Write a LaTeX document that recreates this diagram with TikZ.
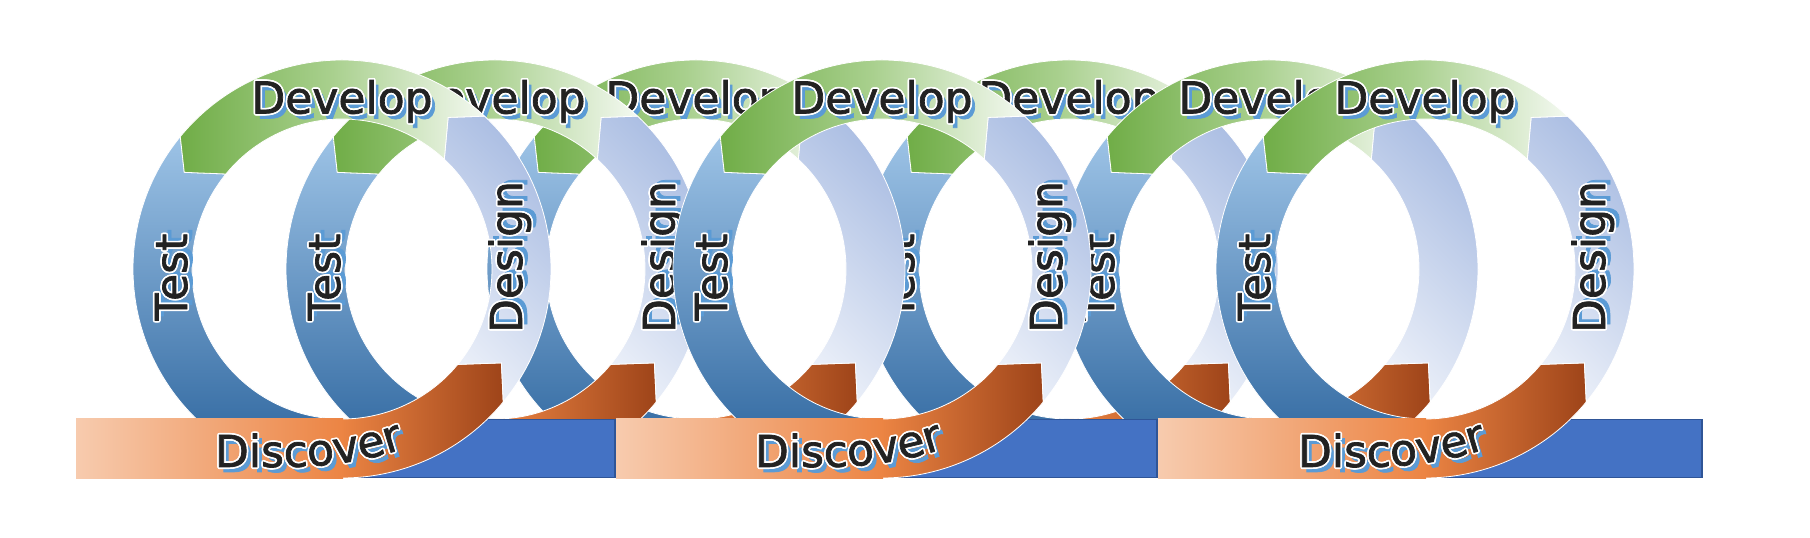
\documentclass[tikz,border=0pt]{standalone}
\usepackage{fontspec}
\newfontfamily\lblfont[FakeBold=1.6]{DejaVu Sans}
\usetikzlibrary{decorations.text}
\definecolor{testtop}{HTML}{9DC3E6}
\definecolor{testbot}{HTML}{27609A}
\definecolor{devl}{HTML}{70AD47}
\definecolor{devm}{HTML}{A9D08E}
\definecolor{devr}{HTML}{F4F9F1}
\definecolor{desdark}{HTML}{A6BAE1}
\definecolor{despale}{HTML}{E9EEF8}
\definecolor{disl}{HTML}{EB8443}
\definecolor{disr}{HTML}{9E4419}
\definecolor{barol}{HTML}{F7CBAE}
\definecolor{baror}{HTML}{EC8443}
\definecolor{barblue}{HTML}{4472C4}
\definecolor{baredge}{HTML}{2F5597}
\definecolor{shadowc}{HTML}{5B9BD5}
\definecolor{textc}{HTML}{222222}
\newcommand\lblsize{\lblfont\fontsize{44pt}{44pt}\selectfont}
\tikzset{
 seg/.style={draw=white, line width=0.8pt},
 lbl/.style={font=\lblsize, inner sep=0pt, outer sep=0pt, anchor=base, transform shape},
 lblshadow/.style={lbl, text=shadowc},
 lblhalo/.style={lbl, text=white},
 lbltext/.style={lbl, text=textc},
}
% outlined label: name, position, rotation, text
\newcommand\olabel[4]{%
 \begin{scope}[shift={#2}, rotate=#3]
  \node[lblshadow] (#1s) at (4.5,-5) {#4};
  \foreach \a in {0,30,...,330} \node[lblhalo] (#1h\a) at (\a:1.7) {#4};
  \node[lbltext] (#1) at (0,0) {#4};
 \end{scope}}
% ring of four arrow segments centred at (#1,269)
\newcommand\ringshape[1]{%
 \begin{scope}[shift={(#1,269)}]
  % Test
  \path[seg, top color=testtop, bottom color=testbot]
   (140.7:209) arc[start angle=140.7, end angle=270, radius=209pt] -- (270:150)
   arc[start angle=270, end angle=140.7, radius=150pt] -- (148.5:185) -- cycle;
  % Discover
  \path[seg, left color=disl, right color=disr]
   (270:209) arc[start angle=270, end angle=320.5, radius=209pt] -- (329.5:185) -- (320.5:150)
   arc[start angle=320.5, end angle=270, radius=150pt] -- cycle;
  % Design
  \path[seg, top color=desdark, bottom color=despale, shading angle=-45]
   (-39.5:209) arc[start angle=-39.5, end angle=47, radius=209pt] -- (55:185) -- (47:150)
   arc[start angle=47, end angle=-39.5, radius=150pt] -- (-30.5:185) -- cycle;
  % Develop
  \path[seg, left color=devl, right color=devr, middle color=devm]
   (47:209) arc[start angle=47, end angle=140.7, radius=209pt] -- (148.5:185) -- (140.7:150)
   arc[start angle=140.7, end angle=47, radius=150pt] -- (55:185) -- cycle;
 \end{scope}}
% blue bar: ring centre #1, right end #2
\newcommand\bluebar[2]{\path[draw=baredge, fill=barblue, line width=1.5pt] (#1,60.5) rectangle (#2,118.5);}
% orange bar: left end #1, ring centre #2
\newcommand\orangebar[2]{\path[left color=barol, right color=baror] (#1,59) rectangle (#2+1,119);}
\newcommand\discover[1]{%
 \begin{scope}[shift={(#1,0)}]
  \path[shift={(4.5,-5)}, decorate, decoration={text along path, text={|\lblsize\color{shadowc}|Discover}}]
   (-127,71) -- (-60,71) .. controls (-10,71) and (30,78) .. (72,93);
  \foreach \a in {0,30,...,330}
   \path[shift={(\a:1.7)}, decorate, decoration={text along path, text={|\lblsize\color{white}|Discover}}]
    (-127,71) -- (-60,71) .. controls (-10,71) and (30,78) .. (72,93);
  \path[decorate, decoration={text along path, text={|\lblsize\color{textc}|Discover}}]
   (-127,71) -- (-60,71) .. controls (-10,71) and (30,78) .. (72,93);
 \end{scope}}
\begin{document}
\begin{tikzpicture}[x=1pt, y=1pt]
\useasboundingbox (0,0) rectangle (1810,538);
% back rings
\ringshape{1069}
\olabel{dev5}{(1069,424.5)}{0}{Develop}
\olabel{test5}{(914,261)}{90}{Test}
\ringshape{696}
\olabel{dev3}{(696,424.5)}{0}{Develop}
\ringshape{1269}
\olabel{dev6}{(1269,424.5)}{0}{Develop}
\olabel{test6}{(1114,261)}{90}{Test}
\ringshape{495}
\olabel{dev2}{(495,424.5)}{0}{Develop}
\olabel{test2}{(340,261)}{90}{Test}
\olabel{des2}{(675,281)}{90}{Design}
% group 1
\bluebar{342}{615}
\ringshape{342}
\orangebar{76}{342}
\olabel{dev1}{(342,424.5)}{0}{Develop}
\olabel{test1}{(187,261)}{90}{Test}
\olabel{des1}{(522,281)}{90}{Design}
\discover{342}
% group 2
\bluebar{882}{1157}
\ringshape{882}
\orangebar{616}{882}
\olabel{dev4}{(882,424.5)}{0}{Develop}
\olabel{test4}{(727,261)}{90}{Test}
\olabel{des4}{(1062,281)}{90}{Design}
\discover{882}
% group 3
\bluebar{1425}{1702}
\ringshape{1425}
\orangebar{1158}{1425}
\olabel{dev7}{(1425,424.5)}{0}{Develop}
\olabel{test7}{(1270,261)}{90}{Test}
\olabel{des7}{(1605,281)}{90}{Design}
\discover{1425}
\end{tikzpicture}
\end{document}
